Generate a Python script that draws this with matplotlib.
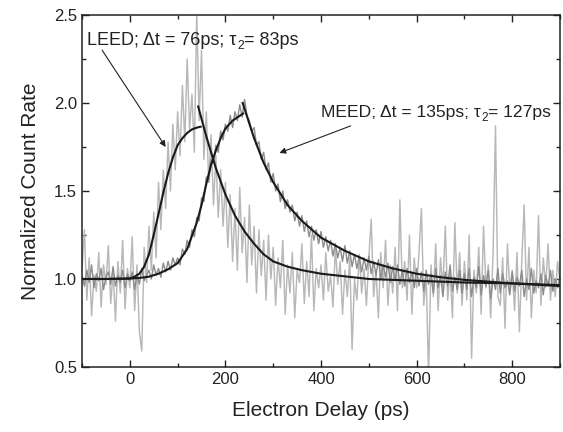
import numpy as np
import matplotlib
matplotlib.use('Agg')
import matplotlib.pyplot as plt
from matplotlib.ticker import MultipleLocator

plt.rcParams['font.family'] = ['Liberation Sans', 'DejaVu Sans']

# raw data, 5 ps steps from -100 to 900 ps
delay = np.arange(-100, 901, 5)

leed = [
    1.05, 1.28, 0.88, 1.12, 0.79, 1.02, 0.93, 1.15, 0.84, 1.08, 0.97, 1.19, 0.86, 1.04, 0.76, 1.10, 0.92, 1.22, 0.83, 1.06,
    0.95, 1.24, 0.82, 1.08, 0.70, 0.59, 1.18, 0.98, 1.30, 1.05, 1.38, 1.12, 1.55, 1.28, 1.62, 1.40, 1.78, 1.50, 1.88, 1.62,
    1.95, 1.70, 2.10, 1.78, 2.25, 1.85, 2.05, 1.72, 2.52, 1.90, 2.30, 1.68, 1.95, 1.55, 1.82, 1.42, 1.70, 1.35, 1.62, 1.30,
    1.55, 1.18, 1.48, 1.10, 1.40, 1.05, 1.52, 1.15, 1.35, 0.98, 1.42, 1.08, 1.30, 0.92, 1.28, 1.02, 1.22, 0.88, 1.25, 1.00,
    1.18, 0.85, 1.12, 0.95, 1.22, 0.80, 1.08, 0.92, 1.15, 0.78, 1.05, 0.98, 1.20, 0.86, 1.10, 0.90, 1.25, 0.82, 1.06, 0.95,
    1.08, 0.88, 1.15, 0.93, 1.02, 0.84, 1.18, 0.97, 1.10, 0.80, 1.05, 0.90, 1.12, 0.60, 1.00, 0.88, 1.14, 0.92, 1.06, 0.85,
    1.12, 1.34, 0.90, 1.05, 0.78, 1.15, 0.95, 1.22, 0.85, 1.08, 0.92, 1.18, 0.82, 1.45, 0.95, 1.10, 0.88, 1.25, 0.80, 1.12,
    0.95, 1.15, 1.40, 0.85, 1.02, 0.45, 1.08, 0.90, 1.20, 0.82, 1.12, 0.95, 1.30, 0.88, 1.05, 0.78, 1.32, 0.92, 1.15, 0.85,
    1.10, 0.88, 1.25, 0.55, 1.05, 0.92, 1.18, 0.80, 1.30, 0.95, 1.08, 0.78, 1.15, 1.87, 0.90, 0.85, 1.12, 0.72, 1.20, 0.93,
    1.05, 0.82, 1.15, 0.70, 1.10, 1.42, 0.88, 1.18, 0.78, 1.05, 0.92, 1.36, 0.85, 1.12, 0.95, 1.20, 0.88, 1.05, 0.90, 1.10,
    0.98,
]

meed = [
    1.02, 0.96, 1.05, 0.98, 1.08, 0.95, 1.03, 0.99, 1.06, 0.94, 1.01, 1.04, 0.97, 1.07, 0.96, 1.02, 0.98, 1.05, 0.95, 1.03,
    0.99, 1.04, 0.94, 1.03, 0.97, 1.06, 0.99, 1.02, 1.05, 1.00, 1.08, 1.02, 1.06, 1.01, 1.09, 1.04, 1.10, 1.05, 1.12, 1.08,
    1.12, 1.08, 1.17, 1.14, 1.22, 1.18, 1.28, 1.24, 1.35, 1.33, 1.46, 1.44, 1.58, 1.55, 1.68, 1.66, 1.76, 1.72, 1.84, 1.79,
    1.88, 1.84, 1.93, 1.86, 1.95, 1.90, 1.99, 1.92, 2.02, 1.93, 1.90, 1.84, 1.86, 1.76, 1.78, 1.68, 1.72, 1.62, 1.66, 1.55,
    1.60, 1.50, 1.54, 1.44, 1.50, 1.40, 1.45, 1.38, 1.42, 1.33, 1.38, 1.30, 1.36, 1.27, 1.33, 1.24, 1.30, 1.22, 1.28, 1.20,
    1.27, 1.18, 1.24, 1.16, 1.22, 1.13, 1.20, 1.12, 1.18, 1.10, 1.19, 1.09, 1.16, 1.07, 1.14, 1.06, 1.13, 1.04, 1.12, 1.05,
    1.13, 1.03, 1.10, 1.02, 1.11, 1.00, 1.08, 1.01, 1.09, 0.98, 1.07, 0.99, 1.08, 0.97, 1.05, 0.96, 1.06, 0.98, 1.04, 0.95,
    1.06, 0.96, 1.04, 0.93, 1.05, 0.97, 1.03, 0.92, 1.06, 0.95, 1.02, 0.90, 1.04, 0.96, 1.08, 0.93, 1.01, 0.94, 1.05, 0.92,
    1.03, 0.94, 1.06, 0.90, 1.01, 0.95, 1.07, 0.91, 1.02, 0.96, 1.05, 0.89, 1.00, 0.94, 1.06, 0.92, 1.03, 0.95, 0.99, 0.91,
    1.04, 0.93, 1.01, 0.96, 1.05, 0.90, 1.00, 0.94, 1.06, 0.92, 0.99, 0.95, 1.03, 0.91, 1.02, 0.96, 1.05, 0.93, 1.00, 0.95,
    1.02,
]

# fitted curves (rise and decay parts)
leed_rise_x = [-100, -50, 0, 10, 20, 30, 40, 50, 60, 70, 80, 90, 100, 110, 120, 130, 140, 148]
leed_rise_y = [1.0, 1.0, 1.003, 1.013, 1.03, 1.07, 1.14, 1.25, 1.37, 1.49, 1.60, 1.69, 1.76, 1.80, 1.83, 1.85, 1.86, 1.865]
leed_decay_x = [143, 160, 180, 200, 220, 240, 260, 280, 300, 330, 360, 400, 450, 500, 600, 700, 800, 900]
leed_decay_y = [1.98, 1.81, 1.63, 1.48, 1.36, 1.27, 1.20, 1.14, 1.10, 1.07, 1.05, 1.03, 1.015, 1.0, 0.99, 0.98, 0.975, 0.965]

meed_rise_x = [-100, -50, 0, 20, 40, 60, 80, 100, 120, 140, 150, 160, 170, 180, 190, 200, 215, 237]
meed_rise_y = [1.0, 1.0, 1.002, 1.006, 1.013, 1.03, 1.055, 1.09, 1.17, 1.32, 1.42, 1.54, 1.65, 1.73, 1.80, 1.855, 1.90, 1.94]
meed_decay_x = [236, 260, 280, 300, 330, 360, 400, 450, 500, 550, 600, 650, 700, 800, 900]
meed_decay_y = [2.00, 1.80, 1.66, 1.55, 1.42, 1.33, 1.235, 1.16, 1.10, 1.06, 1.03, 1.01, 0.995, 0.975, 0.96]

fig = plt.figure(figsize=(5.63, 4.32), dpi=100)
ax = fig.add_axes([0.1457, 0.1505, 0.849, 0.8148])

ax.plot(delay, leed, color='#b8b8b8', lw=1.05)
ax.plot(delay, meed, color='#8c8c8c', lw=1.0)

for xs, ys in [(leed_rise_x, leed_rise_y), (leed_decay_x, leed_decay_y),
               (meed_rise_x, meed_rise_y), (meed_decay_x, meed_decay_y)]:
    ax.plot(xs, ys, color='#1a1a1a', lw=1.5)

ax.set_xlim(-100, 900)
ax.set_ylim(0.5, 2.5)
ax.xaxis.set_major_locator(MultipleLocator(200))
ax.xaxis.set_minor_locator(MultipleLocator(100))
ax.yaxis.set_major_locator(MultipleLocator(0.5))
ax.yaxis.set_minor_locator(MultipleLocator(0.25))
ax.yaxis.set_major_formatter(matplotlib.ticker.FormatStrFormatter('%.1f'))
ax.tick_params(which='both', direction='in', top=True, right=True, width=1, labelsize=12, colors='#222222')
ax.tick_params(which='major', length=5)
ax.tick_params(which='minor', length=3)
for s in ax.spines.values():
    s.set_linewidth(1.1)
    s.set_color('#222222')

ax.set_xlabel('Electron Delay (ps)', fontsize=15, color='#222222', labelpad=10)
ax.set_ylabel('Normalized Count Rate', fontsize=15, color='#222222', labelpad=10)


def sub_label(x, y, before, sub, after, size):
    # text with a lowered subscript, built in three pieces
    t1 = ax.text(x, y, before, fontsize=size, color='#222222', ha='left', va='baseline')
    t2 = ax.annotate(sub, xy=(1, 0), xycoords=t1, xytext=(0.3, -2.5), textcoords='offset points',
                     fontsize=size * 0.68, color='#222222', ha='left', va='bottom')
    ax.annotate(after, xy=(1, 0), xycoords=(t2, t1), xytext=(0.2, 0), textcoords='offset points',
                fontsize=size, color='#222222', ha='left', va='bottom')


sub_label(-89, 2.33, 'LEED; \u0394t = 76ps; \u03c4', '2', '= 83ps', 13)
sub_label(400, 1.92, 'MEED; \u0394t = 135ps; \u03c4', '2', '= 127ps', 12.6)

arrow = dict(arrowstyle='-|>', color='#222222', lw=0.8, mutation_scale=9, shrinkA=0, shrinkB=0)
ax.annotate('', xy=(75, 1.75), xytext=(-58, 2.30), arrowprops=arrow)
ax.annotate('', xy=(313, 1.716), xytext=(462, 1.87), arrowprops=arrow)

fig.savefig('out.png', dpi=100)
